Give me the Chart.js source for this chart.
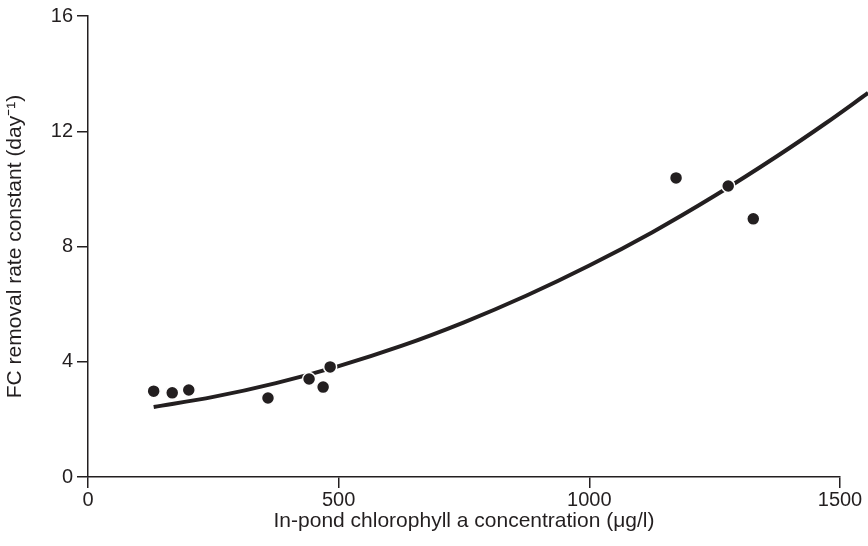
<!DOCTYPE html>
<html>
<head>
<meta charset="utf-8">
<script src="https://cdn.jsdelivr.net/npm/chart.js@4/dist/chart.umd.min.js"></script>
<style>
html,body{margin:0;padding:0;background:#fff;overflow:hidden;}
canvas{display:block;}
</style>
</head>
<body>
<canvas id="c" width="868" height="546"></canvas>
<script>
// Observed data points (chlorophyll a, µg/l) vs FC removal rate constant (day^-1)
const pointX = [131, 168, 201, 359, 441, 469, 483, 1173, 1277, 1327];
const pointY = [2.98, 2.92, 3.02, 2.74, 3.40, 3.12, 3.82, 10.38, 10.10, 8.96];
// Fitted curve
const curveX = [131, 250, 375, 500, 625, 750, 875, 1000, 1125, 1250, 1375, 1470, 1556];
const curveY = [2.43, 2.78, 3.26, 3.85, 4.55, 5.37, 6.30, 7.34, 8.49, 9.76, 11.14, 12.26, 13.33];
const xTicks = [0, 500, 1000, 1500];
const yTicks = [0, 4, 8, 12, 16];

const ink = '#231f20';
const tickFont = {family: '"Liberation Sans", Arial, sans-serif', size: 20};
const titleFont = {family: '"Liberation Sans", Arial, sans-serif', size: 21};

const pts = pointX.map((x, i) => ({x, y: pointY[i]}));
const crv = curveX.map((x, i) => ({x, y: curveY[i]}));

new Chart(document.getElementById('c'), {
  type: 'scatter',
  data: {
    datasets: [
      {
        data: pts, order: 0,
        pointRadius: 6.5, pointBackgroundColor: ink,
        pointBorderColor: '#ffffff', pointBorderWidth: 1.5,
        showLine: false
      },
      {
        data: crv, order: 1, showLine: true, clip: false,
        borderColor: ink, borderWidth: 4, pointRadius: 0,
        tension: 0.4, cubicInterpolationMode: 'monotone', fill: false
      }
    ]
  },
  options: {
    responsive: false, maintainAspectRatio: false, animation: false, devicePixelRatio: 1,
    layout: {padding: {left: 0, right: 28, top: 16, bottom: 0}},
    plugins: {legend: {display: false}, tooltip: {enabled: false}},
    scales: {
      x: {
        type: 'linear', min: 0, max: 1500,
        afterBuildTicks: s => { s.ticks = xTicks.map(v => ({value: v})); },
        afterFit: s => { s.height = 69; },
        border: {display: true, color: ink, width: 1.5},
        grid: {display: true, drawOnChartArea: false, drawTicks: true, tickLength: 11, color: ink, lineWidth: 1.5},
        ticks: {color: ink, font: tickFont, padding: 0, maxRotation: 0, autoSkip: false, callback: v => String(v)},
        title: {display: true, text: 'In-pond chlorophyll a concentration (\u03bcg/l)', color: ink, font: titleFont, padding: {top: 0, bottom: 12}}
      },
      y: {
        type: 'linear', min: 0, max: 16,
        afterBuildTicks: s => { s.ticks = yTicks.map(v => ({value: v})); },
        afterFit: s => { s.width = 88; },
        border: {display: true, color: ink, width: 1.5},
        grid: {display: true, drawOnChartArea: false, drawTicks: true, tickLength: 11, color: ink, lineWidth: 1.5},
        ticks: {color: ink, font: tickFont, padding: 4, autoSkip: false, callback: v => String(v)},
        title: {display: true, text: 'FC removal rate constant (day\u207b\u00b9)', color: ink, font: titleFont, padding: {top: 3, bottom: 0}}
      }
    }
  }
});
</script>
</body>
</html>
